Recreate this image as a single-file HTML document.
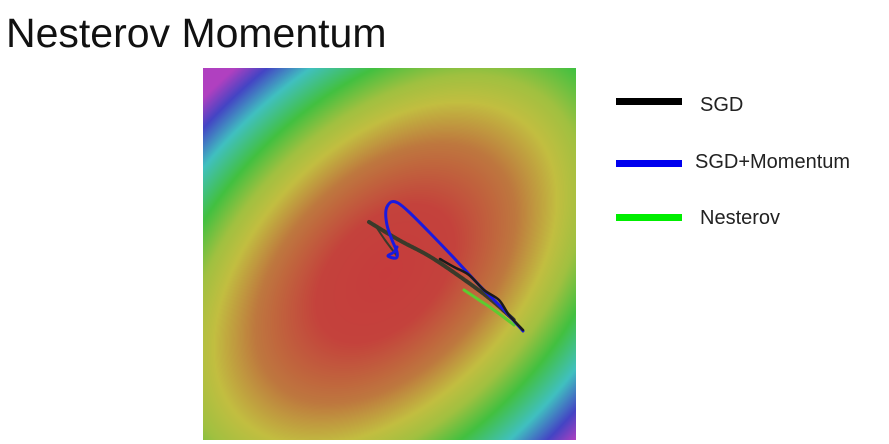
<!DOCTYPE html>
<html><head><meta charset="utf-8"><style>
html,body{margin:0;padding:0;background:#fff;width:889px;height:444px;overflow:hidden;position:relative}
svg{display:block;font-family:"Liberation Sans",Arial,sans-serif;position:absolute;left:0;top:0}
canvas{position:absolute;left:203px;top:68px}
</style></head><body>
<canvas id="surf" width="373" height="372"></canvas>
<svg id="chart" width="889" height="444">
<text x="6" y="47" font-size="41" fill="#111">Nesterov Momentum</text>
<g id="paths"></g>
<g>
<rect x="616" y="98" width="66" height="7" fill="#000"/>
<text x="700" y="111" font-size="20" fill="#222">SGD</text>
<rect x="616" y="160" width="66" height="7" fill="#0000ee"/>
<text x="695" y="168" font-size="20" fill="#222">SGD+Momentum</text>
<rect x="616" y="214" width="66" height="7" fill="#00ee00"/>
<text x="700" y="224" font-size="20" fill="#222">Nesterov</text>
</g>
</svg>
<script>
// data coordinates: x,y offsets in parameter space (0..372 across plot)
const sgdX = [166,196,226,256,286,311];
const sgdY = [154,172,188,208,230,252];
const sgd2X = [172,182,194];
const sgd2Y = [157,172,188];
const sgd3X = [237,251,266,281,296,306,320];
const sgd3Y = [191,199,207,222,232,247,262];
const momX = [320,301,276,251,226,206,195,188,183,184,189,194,193,185,191,194];
const momY = [263,242,217,190,164,144,135,134,142,157,172,184,190,188,184,179];
const nesX = [261,276,291,311];
const nesY = [222,232,242,257];
const stops = [[0,[198,60,60]],[0.2,[196,66,60]],[0.38,[190,120,62]],[0.5,[194,190,64]],[0.58,[160,192,64]],[0.68,[66,192,64]],[0.8,[64,192,192]],[0.9,[68,68,196]],[0.98,[176,64,192]],[1.2,[176,64,192]]];
(function(){
  const c = document.getElementById('surf'), ctx = c.getContext('2d');
  const im = ctx.createImageData(373,372), d = im.data;
  const cx = 385-203, cy = 273-68, a = 410, b = 258, s = Math.SQRT1_2;
  for(let y=0;y<372;y++) for(let x=0;x<373;x++){
    const dx=x-cx, dy=y-cy;
    const u=(dx-dy)*s/a, v=(dx+dy)*s/b;
    let r=Math.min(1.2,Math.sqrt(u*u+v*v));
    let k=0; while(k<stops.length-2 && r>stops[k+1][0]) k++;
    const t=(r-stops[k][0])/(stops[k+1][0]-stops[k][0]);
    const A=stops[k][1], B=stops[k+1][1], i=(y*373+x)*4;
    d[i]=A[0]+(B[0]-A[0])*t; d[i+1]=A[1]+(B[1]-A[1])*t; d[i+2]=A[2]+(B[2]-A[2])*t; d[i+3]=255;
  }
  ctx.putImageData(im,0,0);
})();
const xs = v => 203 + v;
const ys = v => 68 + v;
const g = document.getElementById('paths');
function smooth(X, Y){
  const P = X.map((x,i)=>[xs(x), ys(Y[i])]);
  let d = 'M' + P[0][0] + ',' + P[0][1];
  for(let i=0;i<P.length-1;i++){
    const p0=P[Math.max(0,i-1)], p1=P[i], p2=P[i+1], p3=P[Math.min(P.length-1,i+2)];
    const c1=[p1[0]+(p2[0]-p0[0])/6, p1[1]+(p2[1]-p0[1])/6];
    const c2=[p2[0]-(p3[0]-p1[0])/6, p2[1]-(p3[1]-p1[1])/6];
    d += ' C'+c1[0]+','+c1[1]+' '+c2[0]+','+c2[1]+' '+p2[0]+','+p2[1];
  }
  return d;
}
function draw(X, Y, color, w, name, dash){
  const p = document.createElementNS('http://www.w3.org/2000/svg','path');
  p.setAttribute('d', smooth(X, Y));
  p.setAttribute('fill','none');
  p.setAttribute('stroke',color);
  p.setAttribute('stroke-width',w);
  p.setAttribute('stroke-linejoin','round');
  p.setAttribute('stroke-linecap','round');
  if(dash) p.setAttribute('stroke-dasharray',dash);
  
  
  g.appendChild(p);
}
draw(nesX, nesY, '#5ccc30', 3, 'nesterov-path');
draw(sgdX, sgdY, '#3a3a2a', 4, 'sgd-path', '3 1');
draw(sgd2X, sgd2Y, '#3a3a2a', 2, 'sgd-path-segment');
draw(momX, momY, '#1a1ae0', 3, 'momentum-path');
draw(sgd3X, sgd3Y, '#1a1a1a', 2.5, 'sgd-path-tail');
</script>
</body></html>
